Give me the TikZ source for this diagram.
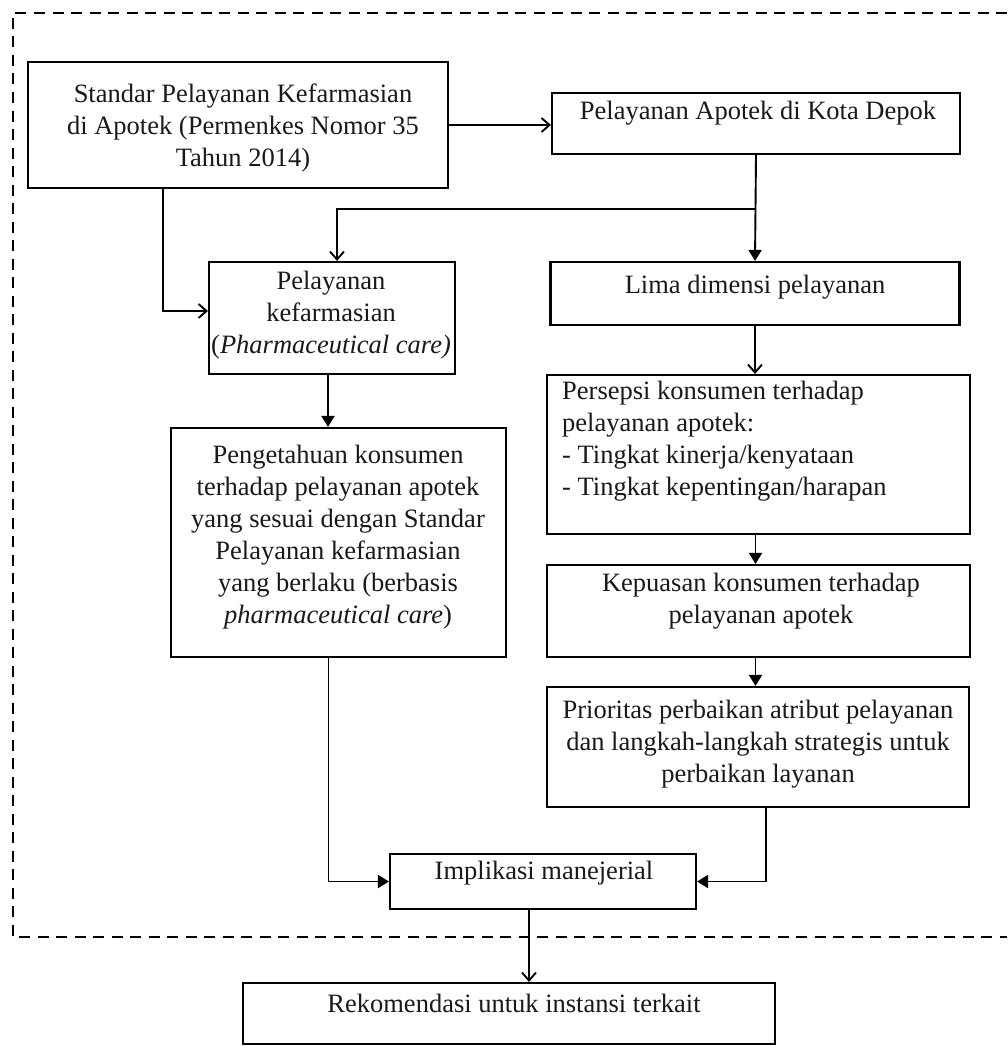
\documentclass[tikz,border=0pt]{standalone}
\usepackage{fontspec}
\setmainfont{Liberation Serif}
\usetikzlibrary{arrows.meta}
\begin{document}
\begin{tikzpicture}[x=1pt,y=-1pt,
  box/.style={draw=black, line width=2.1pt, inner sep=0pt},
  txt/.style={inner sep=0pt, align=center, font=\fontsize{26.5}{32}\selectfont, text=black!90},
  conn/.style={draw=black, line width=1.9pt},
  oarrow/.style={conn, -{Straight Barb[length=8pt,width=14pt,line width=1.9pt]}},
  farrow/.style={conn, -{Triangle[length=11pt,width=13pt]}},
  frame/.style={draw=black, line width=2.8pt, dash pattern=on 11pt off 7.5pt}]
\useasboundingbox (0,0) rectangle (1007,1046);
\fill[white] (0,0) rectangle (1007,1046);

% dashed frame
\draw[frame] (1007,13) -- (13,13) -- (13,937) -- (1007,937);

% boxes
\node[box, minimum width=420pt, minimum height=126pt] (b1) at (238,125) {};
\node[box, minimum width=408pt, minimum height=61pt] (b2) at (756,123.5) {};
\node[box, minimum width=246pt, minimum height=112pt] (pk) at (332,318) {};
\node[box, minimum width=409pt, minimum height=63pt] (lima) at (755,293.5) {};
\node[box, minimum width=335pt, minimum height=229pt] (peng) at (338.5,542.5) {};
\node[box, minimum width=423pt, minimum height=159pt] (pers) at (758.5,454.5) {};
\node[box, minimum width=423pt, minimum height=92pt] (kep) at (758.5,611) {};
\node[box, minimum width=422pt, minimum height=120pt] (prio) at (758,747) {};
\node[box, minimum width=306pt, minimum height=55pt] (impl) at (543,881.5) {};
\node[box, minimum width=532pt, minimum height=61pt] (rek) at (509,1013.5) {};

% texts
\node[txt] (t1) at (243,128) {Standar Pelayanan Kefarmasian\\di Apotek (Permenkes Nomor 35\\Tahun 2014)};
\node[txt] (t2) at (758,113) {Pelayanan Apotek di Kota Depok};
\node[txt] (t3) at (331,315) {Pelayanan\\kefarmasian\\(\textit{Pharmaceutical care)}};
\node[txt] (t4) at (755,287) {Lima dimensi pelayanan};
\node[txt] (t5) at (338,537.5) {Pengetahuan konsumen\\terhadap pelayanan apotek\\yang sesuai dengan Standar\\Pelayanan kefarmasian\\yang berlaku (berbasis\\\textit{pharmaceutical care})};
\node[txt, align=left, anchor=west] (t6) at (562,441) {Persepsi konsumen terhadap\\pelayanan apotek:\\- Tingkat kinerja/kenyataan\\- Tingkat kepentingan/harapan};
\node[txt] (t7) at (761,601) {Kepuasan konsumen terhadap\\pelayanan apotek};
\node[txt] (t8) at (758,744) {Prioritas perbaikan atribut pelayanan\\dan langkah-langkah strategis untuk\\perbaikan layanan};
\node[txt] (t9) at (544,873) {Implikasi manejerial};
\node[txt] (t10) at (514,1003) {Rekomendasi untuk instansi terkait};

% connectors
\draw[oarrow] (b1.east) -- (b2.west |- b1.east);
\coordinate (j1) at (755,209);
\draw[farrow] (b2.south) -- (lima.north);
\draw[oarrow] (j1) -| ([xshift=5pt]pk.north);
\draw[oarrow] ([xshift=-75pt]b1.south) |- ([yshift=7pt]pk.west);
\draw[farrow] ([xshift=-4pt]pk.south) -- ([xshift=-4pt]pk.south |- peng.north);
\draw[oarrow] (lima.south) -- (lima.south |- pers.north);
\draw[farrow] ([xshift=-3pt]pers.south) -- ([xshift=-3pt]pers.south |- kep.north);
\draw[farrow] ([xshift=-3pt]kep.south) -- ([xshift=-3pt]kep.south |- prio.north);
\draw[farrow] ([xshift=-10pt]peng.south) |- (impl.west);
\draw[farrow] ([xshift=8pt]prio.south) |- (impl.east);
\draw[oarrow] ([xshift=-14pt]impl.south) -- ([xshift=-14pt]impl.south |- rek.north);
\end{tikzpicture}
\end{document}
